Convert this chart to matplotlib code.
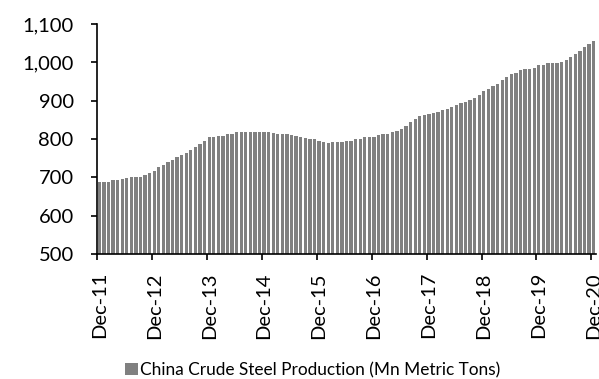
import numpy as np
import pandas as pd
import matplotlib
matplotlib.use("Agg")
import matplotlib.pyplot as plt
from matplotlib.ticker import FuncFormatter, FixedLocator

plt.rcParams['font.family'] = ['Lato', 'DejaVu Sans']

# Monthly categories, Dec-11 .. Dec-20
months = pd.date_range('2011-12-01', periods=109, freq='MS')

# 12m rolling China crude steel production (Mn metric tons)
steel = [
    687, 687, 689, 692, 694, 696, 699, 701, 701, 701, 705, 712,
    717, 726, 733, 739, 745, 752, 757, 763, 771, 778, 786, 794,
    804, 806, 807, 809, 812, 814, 817, 817, 817, 817, 817, 818,
    819, 818, 815, 813, 812, 812, 811, 807, 805, 803, 801, 799,
    796, 792, 789, 791, 792, 793, 794, 796, 799, 801, 804, 805,
    806, 811, 813, 813, 818, 821, 827, 835, 845, 853, 859, 863,
    865, 868, 871, 875, 877, 884, 889, 894, 897, 903, 908, 915,
    924, 931, 937, 944, 953, 961, 969, 972, 979, 983, 983, 984,
    992, 994, 998, 998, 997, 1001, 1005, 1013, 1021, 1030, 1040, 1049,
    1056,
]
series_name = 'China Crude Steel Production (Mn Metric Tons)'

bar_color = '#808080'

fig = plt.figure(figsize=(5.99, 3.79), dpi=100)
ax = fig.add_axes([97 / 599, 1 - 254 / 379, 499 / 599, 230 / 379])

x = np.arange(len(steel))
ax.bar(x, steel, width=0.72, color=bar_color, label=series_name)

ax.set_xlim(-0.5, len(steel) - 0.5)
ax.set_ylim(500, 1100)
ax.set_yticks(np.arange(500, 1101, 100))
ax.yaxis.set_major_formatter(FuncFormatter(lambda v, p: f'{int(v):,}'))

# labels on every 12th month, tick marks between categories
label_pos = x[::12]
ax.set_xticks(label_pos)
ax.set_xticklabels([m.strftime('%b-%y') for m in months[::12]], rotation=90)
ax.xaxis.set_minor_locator(FixedLocator(label_pos - 0.5))

ax.tick_params(axis='x', which='major', length=0, pad=13, labelsize=14.5)
ax.tick_params(axis='x', which='minor', length=4.3, width=1.2, direction='out')
ax.tick_params(axis='y', length=4.3, width=1.2, pad=12.5, labelsize=14.5)

for s in ['top', 'right']:
    ax.spines[s].set_visible(False)
for s in ['left', 'bottom']:
    ax.spines[s].set_linewidth(1.2)

fig.legend(loc='center', bbox_to_anchor=(0.522, 0.024), frameon=False,
           fontsize=12.4, handlelength=0.75, handleheight=0.75, handletextpad=0.15)

fig.savefig('out.png', dpi=100)
